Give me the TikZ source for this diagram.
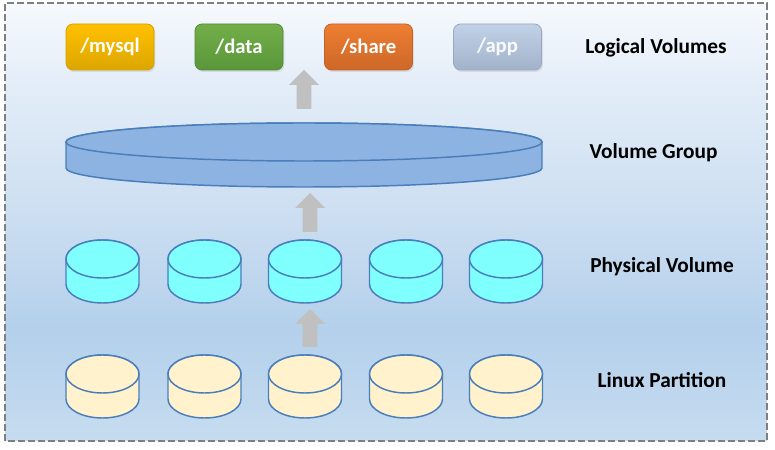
\documentclass[tikz,border=0pt]{standalone}
\usepackage{fontspec}
\setmainfont{Carlito}
\usetikzlibrary{calc,shadows}
\definecolor{bgT}{HTML}{F6F9FD}
\definecolor{bgH}{HTML}{E0EBF7}
\definecolor{bgU}{HTML}{CFE0F2}
\definecolor{bgM}{HTML}{B4D0EB}
\definecolor{bgB}{HTML}{C6DCF0}
\definecolor{diskedge}{HTML}{4A7EBB}
\definecolor{pvfill}{HTML}{80FFFF}
\definecolor{lpfill}{HTML}{FFF2CC}
\definecolor{vgfill}{HTML}{8DB3E2}
\definecolor{arrowgray}{HTML}{C0C0C0}
\definecolor{mysqlT}{HTML}{FFC000}
\definecolor{mysqlB}{HTML}{DCA600}
\definecolor{mysqlE}{HTML}{D4A200}
\definecolor{dataT}{HTML}{72AE48}
\definecolor{dataB}{HTML}{5A973A}
\definecolor{dataE}{HTML}{538A35}
\definecolor{shareT}{HTML}{EE7E32}
\definecolor{shareB}{HTML}{CD6828}
\definecolor{shareE}{HTML}{C46226}
\definecolor{appT}{HTML}{C1D2E8}
\definecolor{appB}{HTML}{A2B2CA}
\definecolor{appE}{HTML}{97A8C0}
\definecolor{borderg}{HTML}{7F7F7F}
\pgfdeclareverticalshading{bgshade}{100bp}{color(0bp)=(bgB); color(25bp)=(bgB); color(37.7bp)=(bgM); color(52.5bp)=(bgU); color(64bp)=(bgH); color(75bp)=(bgT); color(100bp)=(bgT)}
\tikzset{
  lvbox/.style={draw, rounded corners=5.25pt, minimum width=66pt, minimum height=34.5pt,
    inner sep=0pt, text=white, font=\bfseries\fontsize{15.5}{18}\selectfont, line width=0.6pt,
    drop shadow={opacity=0.18, shadow xshift=1pt, shadow yshift=-1.5pt}},
  lbl/.style={font=\bfseries\fontsize{16}{19}\selectfont, text=black, inner sep=0pt},
  diskline/.style={draw=diskedge, line width=1.1pt},
  arrowfill/.style={fill=arrowgray},
  frame/.style={draw=borderg, line width=1.4pt, dash pattern=on 5pt off 2.5pt}
}
\newcommand\blockarrow[2]{%
  \fill[arrowfill] let \p1=(#1), \p2=(#2) in
    (\x1-5.6pt,\y1) -- (\x1-5.6pt,\y2-11.25pt) -- (\x1-11.25pt,\y2-11.25pt) -- (\x2,\y2)
    -- (\x1+11.25pt,\y2-11.25pt) -- (\x1+5.6pt,\y2-11.25pt) -- (\x1+5.6pt,\y1) -- cycle;}
% name, cx, top centre y (image), bottom centre y (image), rx, fill
\newcommand\disk[6]{%
  \coordinate (#1) at (#2,{450-(#3+#4)/2});
  \filldraw[diskline, fill=#6] (#2-#5,{450-#3}) -- (#2-#5,{450-#4})
    arc[start angle=180, end angle=360, x radius=#5, y radius=19]
    -- (#2+#5,{450-#3})
    arc[start angle=0, end angle=180, x radius=#5, y radius=19] -- cycle;
  \filldraw[diskline, fill=#6] (#2,{450-#3}) ellipse[x radius=#5, y radius=19];}
\begin{document}
\begin{tikzpicture}[x=0.75pt,y=0.75pt]
\useasboundingbox (0,0) rectangle (775,450);
\path[shading=bgshade] (5,9) rectangle (767,447);
\draw[frame] (5,9) rectangle (767,447);
% logical volumes
\node[lvbox, draw=mysqlE, top color=mysqlT, bottom color=mysqlB] (mysql) at (110,403) {/mysql};
\node[lvbox, draw=dataE, top color=dataT, bottom color=dataB] (data) at (239,403) {/data};
\node[lvbox, draw=shareE, top color=shareT, bottom color=shareB] (share) at (368.5,403) {/share};
\node[lvbox, draw=appE, top color=appT, bottom color=appB, text=white!92!appT] (app) at (497.5,403) {/app};
% volume group
\disk{vg}{304}{142}{168}{238}{vgfill}
% physical volumes
\disk{pv1}{102.5}{259}{284}{36.5}{pvfill}
\disk{pv2}{204.5}{259}{284}{36.5}{pvfill}
\disk{pv3}{305}{259}{284}{36.5}{pvfill}
\disk{pv4}{406}{259}{284}{36.5}{pvfill}
\disk{pv5}{506}{259}{284}{36.5}{pvfill}
% linux partitions
\disk{lp1}{102.5}{374}{399}{36.5}{lpfill}
\disk{lp2}{204.5}{374}{399}{36.5}{lpfill}
\disk{lp3}{305}{374}{399}{36.5}{lpfill}
\disk{lp4}{406}{374}{399}{36.5}{lpfill}
\disk{lp5}{506}{374}{399}{36.5}{lpfill}
% arrows
\coordinate (a1s) at (304,341); \coordinate (a1e) at (304,380);
\coordinate (a2s) at (310,218); \coordinate (a2e) at (310,257);
\coordinate (a3s) at (310,103); \coordinate (a3e) at (310,141);
\blockarrow{a1s}{a1e}
\blockarrow{a2s}{a2e}
\blockarrow{a3s}{a3e}
% labels
\node[lbl] (lvlabel) at (656,402) {Logical Volumes};
\node[lbl] (vglabel) at (653.5,297) {Volume Group};
\node[lbl] (pvlabel) at (662,183) {Physical Volume};
\node[lbl] (lplabel) at (662,70) {Linux Partition};
\end{tikzpicture}
\end{document}
